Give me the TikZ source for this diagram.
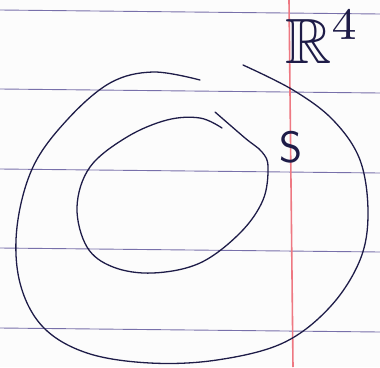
\documentclass[tikz,border=0pt]{standalone}
\usepackage{amsmath, amssymb}
\usepackage{tikz}
\definecolor{RuleBlue}{RGB}{120, 112, 170}
\definecolor{MarginRed}{RGB}{238, 120, 130}
\definecolor{InkNavy}{RGB}{30, 28, 72}
\definecolor{Paper}{RGB}{252, 252, 252}

\begin{document}
\begin{tikzpicture}[x=1pt, y=-1pt,
  rule/.style={RuleBlue, line width=0.9pt},
  margin/.style={MarginRed, line width=1.6pt},
  ink/.style={InkNavy, line width=1.3pt, line cap=round, line join=round},
  lbl/.style={InkNavy, inner sep=0pt}]
\fill[Paper] (0,0) rectangle (380,367);
\useasboundingbox (0,0) rectangle (380,367);
% ruled paper
\foreach \y in {10, 89, 169, 248, 328}
  \draw[rule] (0,\y) -- (380,\y+4);
\draw[margin] (289,0) -- (293,367);
% outer loop
\draw[ink] plot[smooth, tension=0.6] coordinates {
  (200,80) (153,72) (110,83) (67,120) (33,167) (17,227) (20,283) (43,327)
  (87,353) (150,363) (217,360) (283,343) (330,307) (360,260) (368,213)
  (360,160) (333,120) (293,90) (243,65)};
% inner loop
\draw[ink] plot[smooth, tension=0.6] coordinates {
  (222,128) (200,118) (167,120) (127,137) (90,167) (77,207) (87,247)
  (113,267) (153,273) (200,263) (240,233) (263,200) (268,167) (262,152)
  (245,138) (215,112)};
\node[lbl, font=\sffamily\fontsize{44}{44}\selectfont] (s) at (291,147) {S};
\node[lbl, anchor=base west] (space) at (285,63)
  {\scalebox{6.4}{$\mathbb{R}^4$}};
\end{tikzpicture}
\end{document}
